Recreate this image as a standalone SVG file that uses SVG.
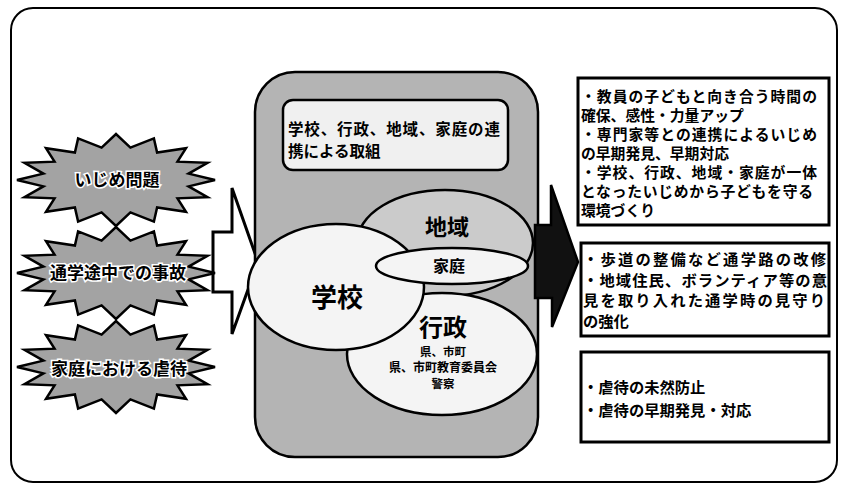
<svg xmlns="http://www.w3.org/2000/svg" xmlns:xlink="http://www.w3.org/1999/xlink" width="841" height="487" viewBox="0 0 841 487">
<style>
  text { font-family: "Noto Sans CJK JP", "Noto Sans CJK SC", sans-serif; font-weight: bold; fill: #000; }
  .star { fill: #a3a3a3; stroke: #000; stroke-width: 2.5; stroke-linejoin: miter; }
  .startxt { font-size: 17px; text-anchor: middle; stroke: #fff; stroke-width: 3px; paint-order: stroke; }
  .ell { fill: #f4f4f4; stroke: #000; stroke-width: 2.5; }
  .box { fill: #fff; stroke: #000; stroke-width: 3; }
  .bt1 { font-size: 14.8px; }
  .bt2 { font-size: 15.3px; }
  .mid { text-anchor: middle; }
</style>
<defs>
  <polygon id="starShape" points="99,0 72.6,6.4 91.5,17.2 61.5,18.3 70,31.8 41.1,27.4 37.9,41.6 14.4,32.4 0,46 -14.4,32.4 -37.9,41.6 -41.1,27.4 -70,31.8 -61.5,18.3 -91.5,17.2 -72.6,6.4 -99,0 -72.6,-6.4 -91.5,-17.2 -61.5,-18.3 -70,-31.8 -41.1,-27.4 -37.9,-41.6 -14.4,-32.4 0,-46 14.4,-32.4 37.9,-41.6 41.1,-27.4 70,-31.8 61.5,-18.3 91.5,-17.2 72.6,-6.4"/>
</defs>

<g id="frame">
  <rect x="11" y="8" width="826" height="474" rx="22" ry="22" fill="#fff" stroke="#000" stroke-width="2"/>
</g>

<g id="connectors">
  <polygon id="arrow-left" points="213,232 232,232 232,188 258,262 232,334 232,292 213,292" fill="#fff" stroke="#000" stroke-width="3" stroke-linejoin="miter"/>
</g>

<g id="star-ijime">
  <use xlink:href="#starShape" href="#starShape" class="star" transform="translate(116,180)"/>
  <text class="startxt" x="117" y="186" font-size="18">いじめ問題</text>
</g>
<g id="star-jiko">
  <use xlink:href="#starShape" href="#starShape" class="star" transform="translate(116,273)"/>
  <text class="startxt" x="118" y="279">通学途中での事故</text>
</g>
<g id="star-gyakutai">
  <use xlink:href="#starShape" href="#starShape" class="star" transform="translate(116,367)"/>
  <text class="startxt" x="119" y="375">家庭における虐待</text>
</g>

<g id="center">
  <rect x="255" y="72" width="283" height="385" rx="40" ry="40" fill="#b4b4b4" stroke="#000" stroke-width="2.5"/>
  <g id="title">
    <rect x="283" y="100" width="225" height="70" rx="10" ry="10" fill="#f0f0f0" stroke="#000" stroke-width="2.5"/>
    <text font-size="15.5"><tspan x="288" y="135" textLength="212" lengthAdjust="spacing">学校、行政、地域、家庭の連</tspan><tspan x="288" y="157">携による取組</tspan></text>
  </g>
  <g id="chiiki">
    <ellipse cx="445" cy="243" rx="88" ry="53" fill="#cbcbcb" stroke="#000" stroke-width="2.5"/>
    <text class="mid" x="447" y="235" font-size="22">地域</text>
  </g>
  <g id="gyosei">
    <ellipse class="ell" cx="442" cy="354" rx="95" ry="61"/>
    <text class="mid"><tspan x="443" y="336" font-size="24">行政</tspan><tspan x="443" y="356" font-size="11.5">県、市町</tspan><tspan x="443" y="372" font-size="12">県、市町教育委員会</tspan><tspan x="443" y="388" font-size="11.5">警察</tspan></text>
  </g>
  <g id="gakko">
    <ellipse class="ell" cx="336" cy="287" rx="88" ry="63"/>
    <text class="mid" x="337" y="307" font-size="26">学校</text>
  </g>
  <g id="katei">
    <ellipse class="ell" cx="452" cy="266" rx="76" ry="18"/>
    <text class="mid" x="449" y="272" font-size="16">家庭</text>
  </g>
</g>

<g id="connectors-right">
  <polygon id="arrow-right" points="535,225 551,225 551,185 578,262 552,327 552,298 535,298" fill="#111" stroke="#000" stroke-width="2.5" stroke-linejoin="miter"/>
</g>

<g id="box-ijime">
  <rect class="box" x="578" y="78" width="251" height="147"/>
  <text class="bt1"><tspan x="581" y="102" textLength="236" lengthAdjust="spacing">・教員の子どもと向き合う時間の</tspan><tspan x="581" y="121">確保、感性・力量アップ</tspan><tspan x="581" y="140" textLength="236" lengthAdjust="spacing">・専門家等との連携によるいじめ</tspan><tspan x="581" y="159">の早期発見、早期対応</tspan><tspan x="581" y="178" textLength="236" lengthAdjust="spacing">・学校、行政、地域・家庭が一体</tspan><tspan x="581" y="197" textLength="232" lengthAdjust="spacing">となったいじめから子どもを守る</tspan><tspan x="581" y="216">環境づくり</tspan></text>
</g>

<g id="box-jiko">
  <rect class="box" x="581" y="243" width="248" height="93"/>
  <text class="bt2"><tspan x="583" y="265" textLength="243" lengthAdjust="spacing">・歩道の整備など通学路の改修</tspan><tspan x="583" y="285.5" textLength="244" lengthAdjust="spacing">・地域住民、ボランティア等の意</tspan><tspan x="583" y="306" textLength="242" lengthAdjust="spacing">見を取り入れた通学時の見守り</tspan><tspan x="583" y="326.5">の強化</tspan></text>
</g>

<g id="box-gyakutai">
  <rect class="box" x="581" y="352" width="248" height="90"/>
  <text class="bt2"><tspan x="583" y="393">・虐待の未然防止</tspan><tspan x="583" y="416">・虐待の早期発見・対応</tspan></text>
</g>
</svg>
